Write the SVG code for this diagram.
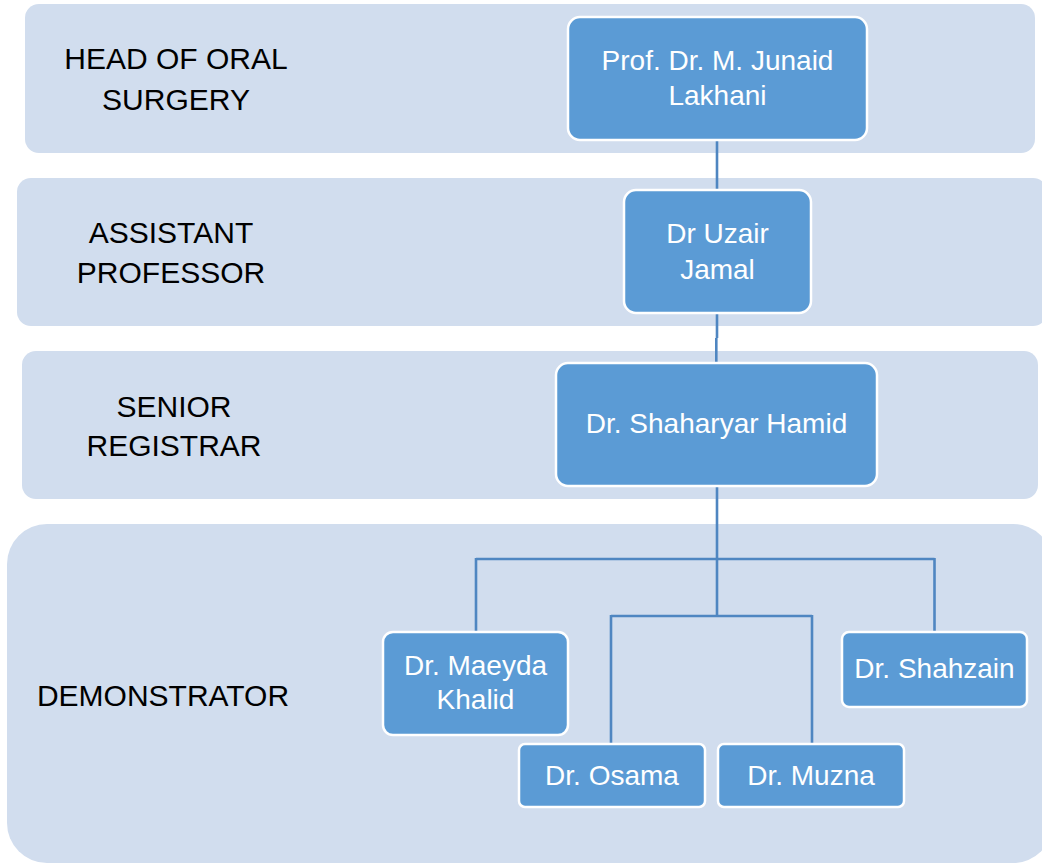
<svg xmlns="http://www.w3.org/2000/svg" width="1042" height="863" viewBox="0 0 1042 863">
<style>
.band{fill:#D1DDEE;}
.lbl{font-family:"Liberation Sans",Arial,sans-serif;font-size:30px;fill:#000;text-anchor:middle;}
.node rect{fill:#5B9BD5;stroke:#FFFFFF;stroke-width:2.5;}
.node text{font-family:"Liberation Sans",Arial,sans-serif;font-size:28px;fill:#FFFFFF;text-anchor:middle;}
.conn{fill:none;stroke:#4F86C1;stroke-width:2.6;}
</style>
<rect width="1042" height="863" fill="#FFFFFF"/>
<g id="bands">
<g id="band-head">
<rect class="band" x="25" y="4" width="1010" height="149" rx="14"/>
<text class="lbl" x="176" y="69">HEAD OF ORAL</text>
<text class="lbl" x="176" y="110">SURGERY</text>
</g>
<g id="band-assistant">
<rect class="band" x="17" y="178" width="1030" height="148" rx="14"/>
<text class="lbl" x="171" y="243">ASSISTANT</text>
<text class="lbl" x="171" y="283">PROFESSOR</text>
</g>
<g id="band-senior">
<rect class="band" x="22" y="351" width="1016" height="148" rx="14"/>
<text class="lbl" x="174" y="417">SENIOR</text>
<text class="lbl" x="174" y="456">REGISTRAR</text>
</g>
<g id="band-demo">
<rect class="band" x="7" y="524" width="1046" height="339" rx="40"/>
<text class="lbl" x="163" y="706">DEMONSTRATOR</text>
</g>
</g>
<g id="connectors">
<path class="conn" d="M717 140 V190"/>
<path class="conn" d="M717 313 V338 M716.3 338 V363"/>
<path class="conn" d="M717 486 V616"/>
<path class="conn" d="M476 559 H934.5"/>
<path class="conn" d="M476 558 V632"/>
<path class="conn" d="M934.5 558 V632"/>
<path class="conn" d="M611 616 H812"/>
<path class="conn" d="M611 615 V744"/>
<path class="conn" d="M812 615 V744"/>
</g>
<g id="node-lakhani" class="node">
<rect x="568" y="17" width="299" height="123" rx="12"/>
<text x="717.5" y="70">Prof. Dr. M. Junaid</text>
<text x="717.5" y="105">Lakhani</text>
</g>
<g id="node-uzair" class="node">
<rect x="624" y="190" width="187" height="123" rx="12"/>
<text x="717.5" y="243">Dr Uzair</text>
<text x="717.5" y="279">Jamal</text>
</g>
<g id="node-shaharyar" class="node">
<rect x="556" y="363" width="321" height="123" rx="12"/>
<text x="716.5" y="433">Dr. Shaharyar Hamid</text>
</g>
<g id="node-maeyda" class="node">
<rect x="383" y="632" width="185" height="103" rx="10"/>
<text x="475.5" y="675">Dr. Maeyda</text>
<text x="475.5" y="709">Khalid</text>
</g>
<g id="node-osama" class="node">
<rect x="519" y="744" width="186" height="63" rx="6"/>
<text x="612" y="785">Dr. Osama</text>
</g>
<g id="node-muzna" class="node">
<rect x="718" y="744" width="186" height="63" rx="6"/>
<text x="811" y="785">Dr. Muzna</text>
</g>
<g id="node-shahzain" class="node">
<rect x="842" y="632" width="185" height="75" rx="7"/>
<text x="934.5" y="678">Dr. Shahzain</text>
</g>
</svg>
